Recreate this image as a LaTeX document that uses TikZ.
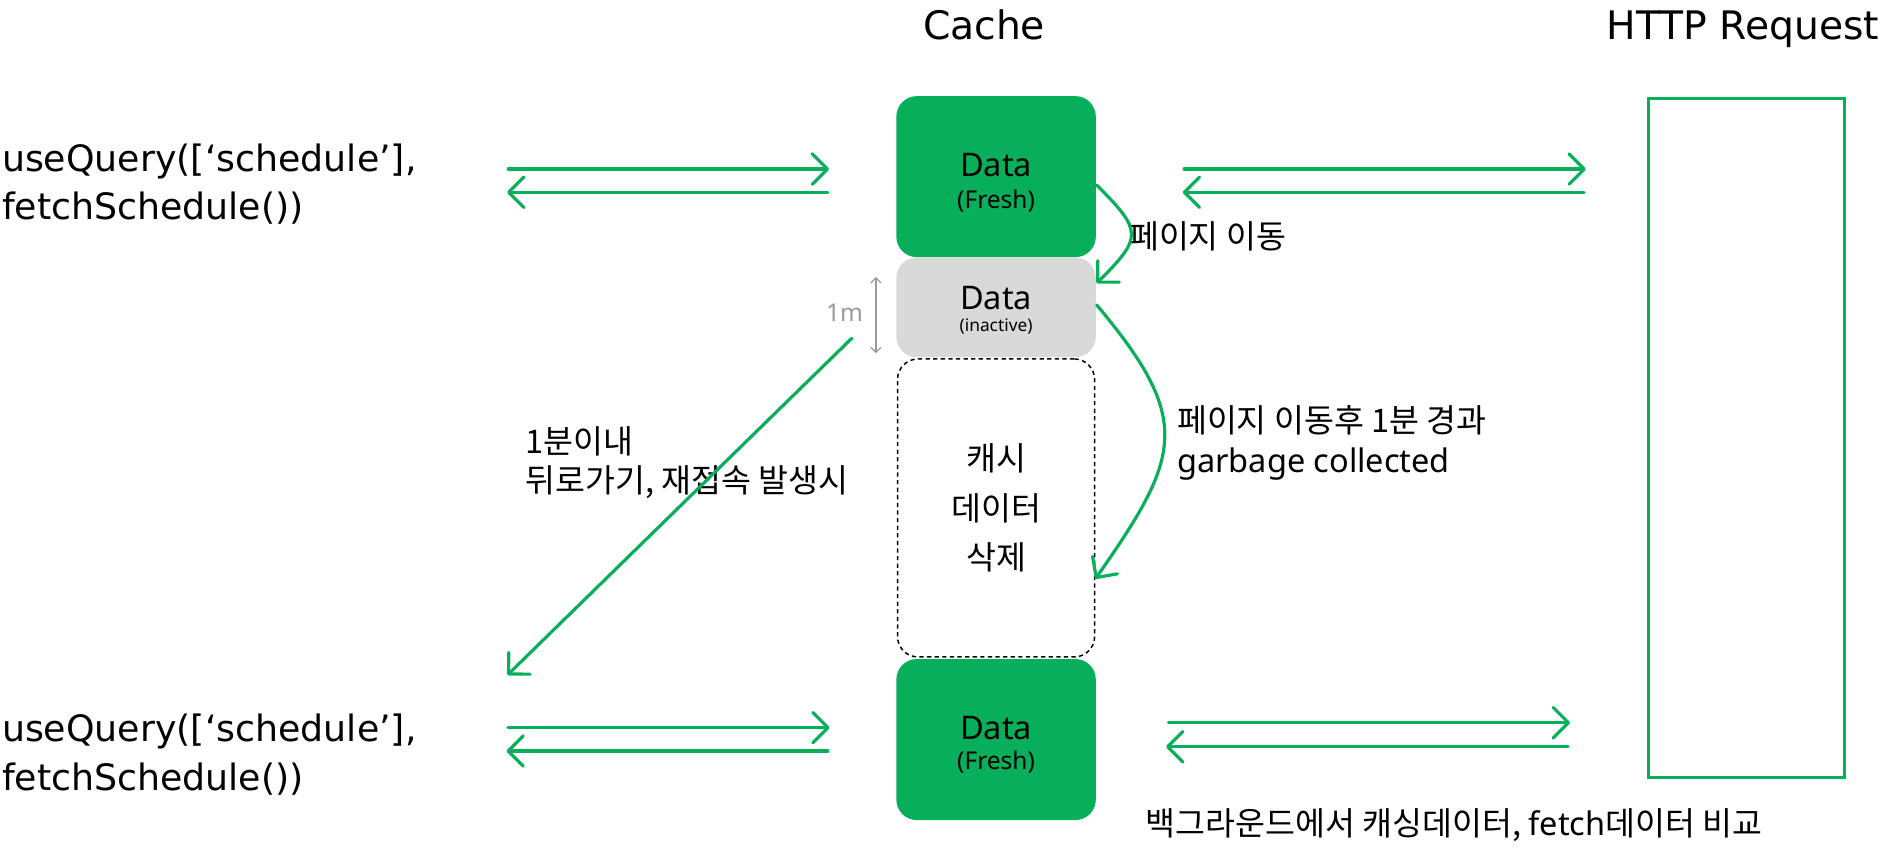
\documentclass[tikz,border=0pt]{standalone}
\usepackage{fontspec}
\setmainfont{Noto Sans}
\newfontfamily\kr{Noto Sans CJK KR}
\newfontfamily\wide{DejaVu Sans}
\usetikzlibrary{arrows.meta}
\definecolor{qgreen}{HTML}{08AF5A}
\definecolor{qgray}{HTML}{D9D9D9}
\definecolor{dimgray}{HTML}{9A9A9A}
\tikzset{
  cell/.style={rounded corners=0.17cm, minimum width=1.66cm, inner sep=0pt},
  fresh/.style={cell, fill=qgreen, minimum height=1.34cm},
  idle/.style={cell, fill=qgray, minimum height=0.83cm},
  gone/.style={cell, draw=black, line width=0.35pt, dash pattern=on 1pt off 0.8pt,
    minimum width=1.64cm, minimum height=2.48cm, align=center,
    font=\kr\fontsize{7.7}{11.7}\selectfont},
  big/.style={inner sep=0pt, font=\fontsize{7.7}{9}\selectfont},
  small/.style={inner sep=0pt, font=\fontsize{5.8}{6}\selectfont},
  tiny/.style={inner sep=0pt, font=\fontsize{4.1}{5}\selectfont},
  title/.style={inner sep=0pt, anchor=base, font=\wide\fontsize{9.3}{10}\selectfont},
  query/.style={inner sep=0pt, anchor=west, align=left, font=\wide\fontsize{8.6}{11.4}\selectfont},
  note/.style={inner sep=0pt, anchor=west, align=left, font=\kr\fontsize{7.7}{9.45}\selectfont},
  flow/.style={draw=qgreen, line width=0.75pt, line cap=round,
    -{Straight Barb[length=3.6pt,width=7.2pt,round]}},
}
\begin{document}
\begin{tikzpicture}
  \useasboundingbox (0,0) rectangle (15.68,7.06);
  \draw
    (8.19,6.73) node[title] (cache){Cache}
    (14.505,6.73) node[title] (http){HTTP Request}
    (0.01,5.53) node[query] (q1){useQuery([‘schedule’],\\fetchSchedule())}
    (0.01,0.78) node[query] (q2){useQuery([‘schedule’],\\fetchSchedule())}
    (8.29,5.59) node[fresh] (d1){}
    (8.29,4.5025) node[idle] (d2){}
    (8.29,2.8325) node[gone] (d3){캐시\\데이터\\삭제}
    (8.29,0.905) node[fresh] (d4){}
    (14.535,3.415) node[draw=qgreen, line width=0.85pt, minimum width=1.63cm,
      minimum height=5.65cm] (server){};
  \draw
    ([yshift=0.10cm]d1.center) node[big] (d1a){Data}
    ([yshift=-0.20cm]d1.center) node[small] (d1b){(Fresh)}
    ([yshift=0.078cm]d2.center) node[big] (d2a){Data}
    ([yshift=-0.163cm]d2.center) node[tiny] (d2b){(inactive)}
    ([yshift=0.095cm]d4.center) node[big] (d4a){Data}
    ([yshift=-0.185cm]d4.center) node[small] (d4b){(Fresh)}
    (7.19,4.46) node[small, anchor=east, text=dimgray] (min){1m}
    (9.39,5.09) node[note] (move){페이지 이동}
    (9.79,3.375) node[note] (gc){페이지 이동후 1분 경과\\{\rmfamily garbage collected}}
    (4.37,3.21) node[note] (back){1분이내\\뒤로가기, 재접속 발생시}
    (9.53,0.194) node[note] (cmp){백그라운드에서 캐싱데이터, {\rmfamily fetch}데이터 비교};
  \path
    (4.23,5.653) coordinate (r1) (6.90,5.653) coordinate (r1e)
    (6.89,5.46) coordinate (l1) (4.22,5.46) coordinate (l1e)
    (9.855,5.653) coordinate (r2) (13.198,5.653) coordinate (r2e)
    (13.184,5.46) coordinate (l2) (9.843,5.46) coordinate (l2e)
    (4.228,1.004) coordinate (r3) (6.904,1.004) coordinate (r3e)
    (6.89,0.81) coordinate (l3) (4.215,0.81) coordinate (l3e)
    (9.725,1.045) coordinate (r4) (13.067,1.045) coordinate (r4e)
    (13.05,0.845) coordinate (l4) (9.705,0.845) coordinate (l4e)
    (7.088,4.244) coordinate (b0) (4.223,1.442) coordinate (b1)
    (7.29,4.755) coordinate (m0) (7.29,4.12) coordinate (m1);
  \begin{scope}[flow]
    \draw (r1) to (r1e);
    \draw (l1) to (l1e);
    \draw (r2) to (r2e);
    \draw (l2) to (l2e);
    \draw (r3) to (r3e);
    \draw (l3) to (l3e);
    \draw (r4) to (r4e);
    \draw (l4) to (l4e);
    \draw (b0) to (b1);
    \draw ([yshift=-0.07cm]d1.east) to[out=-45, in=45, looseness=1.7] ([yshift=0.2cm]d2.east);
    \draw ([yshift=0.02cm]d2.east) to[out=-50, in=55, looseness=1.4] ([yshift=-0.59cm]d3.east);
  \end{scope}
  \draw[dimgray, line width=0.3pt, {Straight Barb[length=1.2pt,width=2.4pt]}-{Straight Barb[length=1.2pt,width=2.4pt]}] (m0) to (m1);
\end{tikzpicture}
\end{document}
